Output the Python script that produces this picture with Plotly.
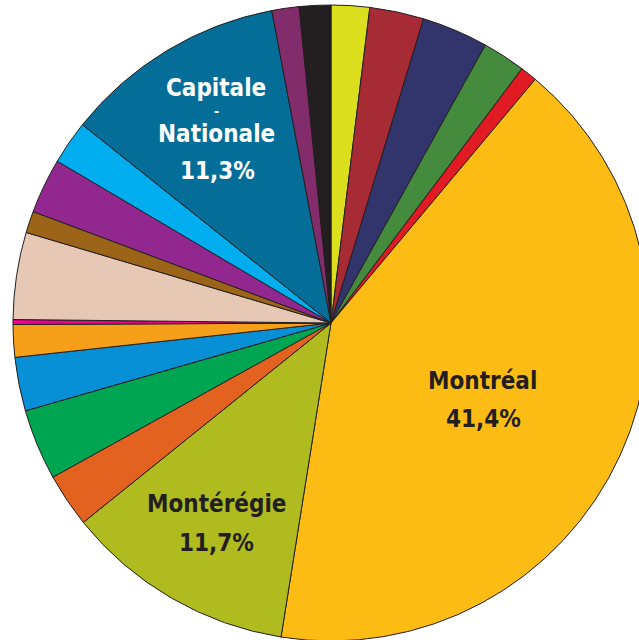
import plotly.graph_objects as go

# Slices, clockwise from 12 o'clock
regions = [
    "Bas-Saint-Laurent", "Saguenay–Lac-Saint-Jean", "Mauricie", "Estrie", "Outaouais",
    "Montréal", "Montérégie", "Laval", "Lanaudière", "Laurentides", "Centre-du-Québec",
    "Nord-du-Québec", "Chaudière-Appalaches", "Côte-Nord", "Abitibi-Témiscamingue",
    "Gaspésie–Îles-de-la-Madeleine", "Capitale-Nationale", "Hors Québec", "Non précisé",
]
shares = [
    1.95, 2.75, 3.37, 2.18, 0.85,
    41.4, 11.7, 2.73, 3.60, 2.73, 1.65,
    0.25, 4.42, 1.10, 2.80,
    2.22, 11.3, 1.38, 1.60,
]
colors = [
    "#DCDF1E", "#A62B34", "#32346C", "#458B3D", "#E01B24",
    "#FCBC14", "#B0BB20", "#E3621F", "#00A551", "#0790D5", "#F6A01A",
    "#EC008C", "#E6C8B4", "#9C6418", "#92278F",
    "#00AEEF", "#046E99", "#822C6B", "#231F20",
]

# Labels shown on the chart: (line text, colour, centre px x, centre px y, font size)
label_lines = [
    ("Montréal", "#231F20", 482, 381, 24),
    ("41,4%", "#231F20", 483, 419, 24),
    ("Montérégie", "#231F20", 216, 504, 24),
    ("11,7%", "#231F20", 216, 543, 24),
    ("Capitale", "#FFFFFF", 216, 88, 24),
    ("-", "#FFFFFF", 216, 111, 14),
    ("Nationale", "#FFFFFF", 216, 134, 24),
    ("11,3%", "#FFFFFF", 217, 171, 24),
]

W, H = 662, 646
CX, CY, R = 331, 323, 318

fig = go.Figure(
    go.Pie(
        labels=regions,
        values=shares,
        sort=False,
        direction="clockwise",
        rotation=0,
        marker=dict(colors=colors, line=dict(color="#231F20", width=1)),
        textinfo="none",
        hoverinfo="label+percent",
        showlegend=False,
        domain=dict(x=[(CX - R) / W, (CX + R) / W], y=[(H - CY - R) / H, (H - CY + R) / H]),
    )
)

font_family = "DejaVu Sans Condensed, Liberation Sans Narrow, sans-serif"
for line, col, px, py, fs in label_lines:
    fig.add_annotation(
        x=px / W, y=1 - py / H, xref="paper", yref="paper",
        text=line, showarrow=False,
        xanchor="center", yanchor="middle",
        font=dict(family=font_family, size=fs, color=col, weight=700),
    )

fig.update_layout(
    width=W, height=H,
    margin=dict(l=0, r=0, t=0, b=0),
    paper_bgcolor="white", plot_bgcolor="white",
)

fig.write_html(
    "out.html",
    config={"displayModeBar": False},
    post_script="document.body.style.margin='0';document.body.style.overflow='hidden';",
)
